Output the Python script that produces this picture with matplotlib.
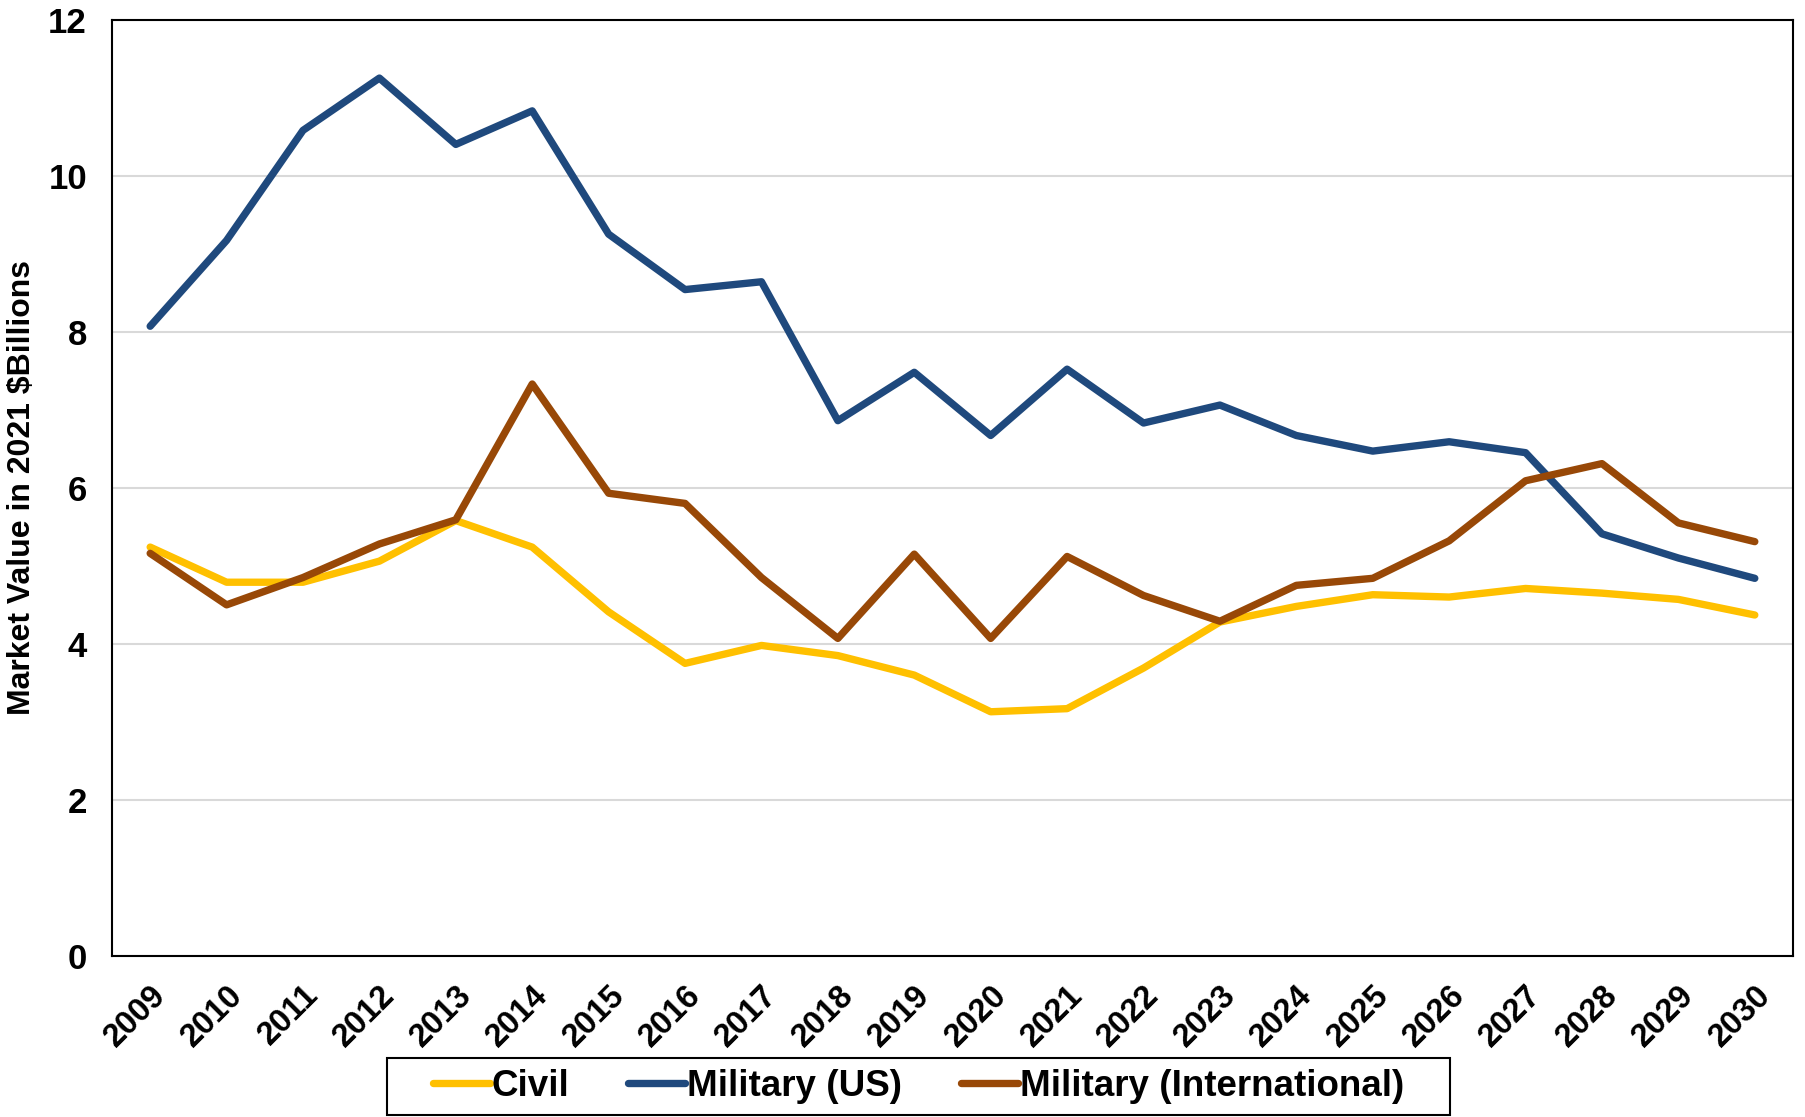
import matplotlib.pyplot as plt
from matplotlib.patches import Rectangle

plt.rcParams['font.family'] = ['Liberation Sans', 'DejaVu Sans']
plt.rcParams['font.weight'] = 'bold'

years = list(range(2009, 2031))
civil = [5.24, 4.79, 4.79, 5.06, 5.58, 5.24, 4.41, 3.75, 3.98, 3.85, 3.60,
         3.13, 3.17, 3.69, 4.28, 4.48, 4.63, 4.60, 4.71, 4.65, 4.57, 4.37]
military_us = [8.07, 9.17, 10.58, 11.25, 10.40, 10.83, 9.25, 8.54, 8.64, 6.86, 7.48,
               6.67, 7.52, 6.83, 7.06, 6.67, 6.47, 6.59, 6.45, 5.41, 5.10, 4.84]
military_intl = [5.16, 4.50, 4.85, 5.28, 5.59, 7.33, 5.93, 5.80, 4.85, 4.07, 5.15,
                 4.07, 5.12, 4.62, 4.29, 4.75, 4.84, 5.32, 6.09, 6.31, 5.55, 5.31]

fig = plt.figure(figsize=(18.06, 11.17), dpi=100)
ax = fig.add_axes([0.062, 0.1441, 0.9308, 0.8384])

x = list(range(len(years)))
style = dict(lw=5.3, solid_capstyle='round', solid_joinstyle='round')
ax.plot(x, civil, color='#FFC000', label='Civil', **style)
ax.plot(x, military_us, color='#1F497D', label='Military (US)', **style)
ax.plot(x, military_intl, color='#984807', label='Military (International)', **style)

ax.set_xlim(-0.5, len(years) - 0.5)
ax.set_ylim(0, 12)
ax.set_yticks(range(0, 13, 2))
ax.set_xticks(x)
ax.set_xticklabels([str(y) for y in years], rotation=45, ha='right',
                   rotation_mode='anchor', fontsize=23.5, fontweight='bold')
ax.tick_params(axis='y', labelsize=25, length=0, pad=18)
ax.tick_params(axis='x', length=0, pad=17)
for lab in ax.get_yticklabels():
    lab.set_fontweight('bold')

ax.grid(axis='y', color='#D9D9D9', lw=1.5)
ax.set_axisbelow(True)
for s in ax.spines.values():
    s.set_linewidth(1.5)
    s.set_color('black')

ax.set_ylabel('Market Value in 2021 $Billions', fontsize=23, fontweight='bold', labelpad=8)

leg = fig.legend(loc='lower center', bbox_to_anchor=(0.5085, 0.002), ncol=3, fontsize=26.5,
                 frameon=False, handlelength=1.55, handletextpad=0.05,
                 columnspacing=1.6, borderpad=0.3, borderaxespad=0)
for t in leg.get_texts():
    t.set_fontweight('bold')

# legend box: wider horizontal padding than the vertical one
fig.canvas.draw()
bb = leg.get_window_extent()
W, H = fig.bbox.width, fig.bbox.height
padx = 35
fig.patches.append(Rectangle(((bb.x0 - padx) / W, bb.y0 / H), (bb.width + 2 * padx) / W,
                             bb.height / H, transform=fig.transFigure, fill=False,
                             edgecolor='black', lw=1.5))

fig.savefig('out.png', dpi=100)
